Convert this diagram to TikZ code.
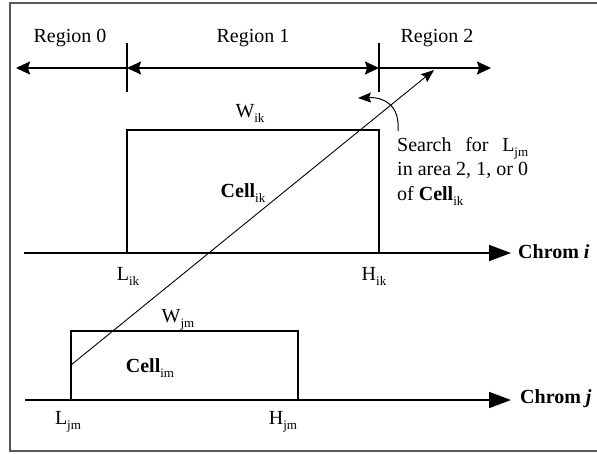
\documentclass[tikz,border=0pt]{standalone}
\usepackage{fontspec}
\setmainfont{Liberation Serif}
\usetikzlibrary{arrows.meta}
\newcommand\lowsub[1]{\raisebox{-0.25em}{\fontsize{13}{13}\selectfont\mdseries\upshape #1}}
\begin{document}
\begin{tikzpicture}[x=1pt,y=1pt,
  lbl/.style={inner sep=0pt,font=\fontsize{20}{24.5}\selectfont},
  axisline/.style={line width=1.8pt},
  boxline/.style={line width=2pt},
  tickline/.style={line width=1.4pt},
  regtip/.tip={Stealth[length=14pt,width=13pt,inset=2pt]},
  chromtip/.tip={Triangle[length=22pt,width=16pt]},
  thintip/.tip={Stealth[length=13pt,width=10pt,inset=2pt]}]
\useasboundingbox (0,0) rectangle (597,-453);
% frame
\draw[black!65,line width=1.3pt] (600,-3) -- (10,-3) -- (10,-451) -- (600,-451);
% region labels
\node[lbl,anchor=base] (rg0) at (70,-42) {Region 0};
\node[lbl,anchor=base] (rg1) at (253,-42) {Region 1};
\node[lbl,anchor=base] (rg2) at (437,-42) {Region 2};
% region axis
\coordinate (r0) at (16,-68);
\coordinate (t1) at (127,-68);
\coordinate (t2) at (379,-68);
\coordinate (r2) at (491,-68);
\coordinate (t1a) at (127,-43);
\coordinate (t1b) at (127,-92);
\coordinate (t2a) at (379,-43);
\coordinate (t2b) at (379,-92);
\draw[tickline] (t1a) -- (t1b);
\draw[tickline] (t2a) -- (t2b);
\draw[axisline,regtip-] (r0) -- (t1);
\draw[axisline,regtip-regtip] (t1) -- (t2);
\draw[axisline,-regtip] (t2) -- (r2);
% chromosome i
\coordinate (ci0) at (24,-253);
\coordinate (ci1) at (511,-253);
\draw[axisline,-chromtip] (ci0) -- (ci1);
\node[lbl,anchor=west] (chi) at (518,-252) {\bfseries Chrom \textit{i}};
\coordinate (lik) at (127,-253);
\coordinate (hik) at (379,-253);
\coordinate (lik2) at (127,-130);
\coordinate (hik2) at (379,-130);
\draw[boxline] (lik) -- (lik2) -- (hik2) -- (hik);
\node[lbl,anchor=base] (wik) at (250,-117) {W\lowsub{ik}};
\node[lbl,anchor=base] (cellik) at (243,-197) {\textbf{Cell}\lowsub{ik}};
\node[lbl,anchor=base] (likl) at (128,-280) {L\lowsub{ik}};
\node[lbl,anchor=base] (hikl) at (374,-280) {H\lowsub{ik}};
% chromosome j
\coordinate (cj0) at (25,-400);
\coordinate (cj1) at (511,-400);
\draw[axisline,-chromtip] (cj0) -- (cj1);
\node[lbl,anchor=west] (chj) at (520,-399) {\bfseries Chrom \textit{j}};
\coordinate (ljm) at (71,-400);
\coordinate (hjm) at (298,-400);
\coordinate (ljm2) at (71,-331);
\coordinate (hjm2) at (298,-331);
\draw[boxline] (ljm) -- (ljm2) -- (hjm2) -- (hjm);
\node[lbl,anchor=base] (wjm) at (178,-322) {W\lowsub{jm}};
\node[lbl,anchor=base] (celljm) at (150,-372) {\textbf{Cell}\lowsub{im}};
\node[lbl,anchor=base] (ljml) at (68,-424) {L\lowsub{jm}};
\node[lbl,anchor=base] (hjml) at (283,-424) {H\lowsub{jm}};
% diagonal
\coordinate (dg0) at (71,-365);
\coordinate (dg1) at (434,-70);
\draw[line width=0.9pt,-thintip] (dg0) -- (dg1);
% search note
\node[lbl,anchor=north west,text width=131pt,align=justify] (srch) at (397,-137)
  {\noindent Search for L\lowsub{jm}\linebreak in area 2, 1, or 0\linebreak of \textbf{Cell}\lowsub{ik}};
\coordinate (cv0) at (398,-131);
\coordinate (cv1) at (358,-98);
\draw[line width=1pt,-thintip] (cv0) .. controls (400,-106) and (385,-97) .. (cv1);
\end{tikzpicture}
\end{document}
